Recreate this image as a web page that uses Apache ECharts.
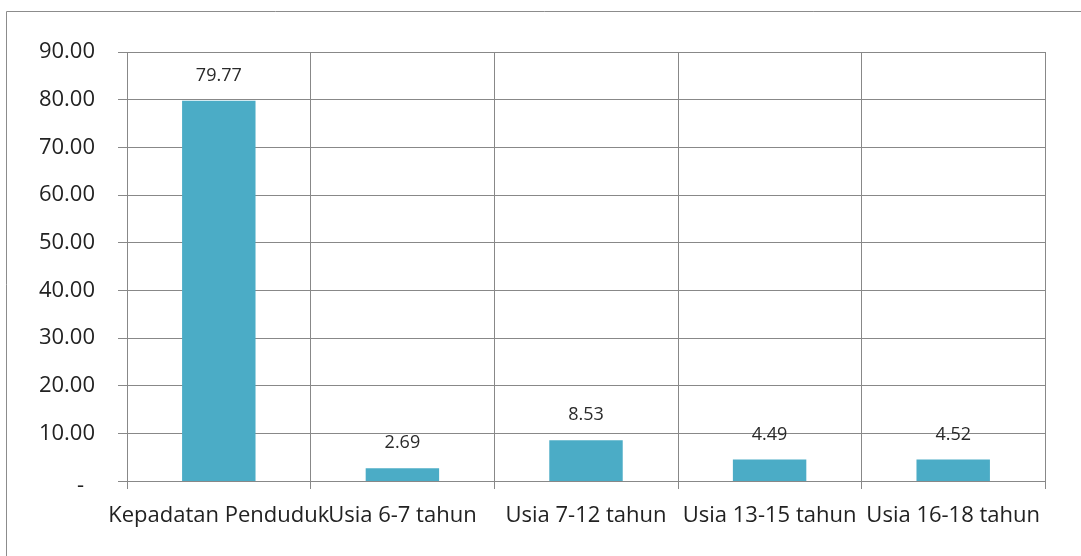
<!DOCTYPE html>
<html>
<head>
<meta charset="utf-8">
<script src="https://cdn.jsdelivr.net/npm/echarts@6/dist/echarts.min.js"></script>
<style>
html,body{margin:0;padding:0;background:#fff;}
#chart{width:1081px;height:556px;}
</style>
</head>
<body>
<div id="chart"></div>
<script>
var categories = ['Kepadatan Penduduk', 'Usia 6-7 tahun', 'Usia 7-12 tahun', 'Usia 13-15 tahun', 'Usia 16-18 tahun'];
var values = [79.77, 2.69, 8.53, 4.49, 4.52];

var chart = echarts.init(document.getElementById('chart'));
chart.setOption({
  animation: false,
  graphic: [{
    type: 'rect',
    shape: {x: 6.5, y: 11.5, width: 1100, height: 600},
    style: {fill: 'none', stroke: '#8c8c8c', lineWidth: 1},
    silent: true
  }],
  grid: {left: 127, right: 36, top: 52, bottom: 75, containLabel: false},
  xAxis: {
    type: 'category',
    data: categories,
    boundaryGap: true,
    axisLine: {lineStyle: {color: '#888', width: 1}},
    axisTick: {show: true, interval: 0, length: 8, lineStyle: {color: '#888'}},
    splitLine: {show: true, interval: 0, lineStyle: {color: '#888', width: 1}},
    axisLabel: {interval: 0, color: '#222', fontFamily: 'Open Sans', fontSize: 22, margin: 24}
  },
  yAxis: {
    type: 'value',
    min: 0, max: 90, interval: 10,
    axisLine: {show: false},
    axisTick: {show: true, length: 9, lineStyle: {color: '#888'}},
    splitLine: {show: true, lineStyle: {color: '#888', width: 1}},
    axisLabel: {
      color: '#222', fontFamily: 'Open Sans', fontSize: 22, margin: 32,
      formatter: function (v) { return v === 0 ? '{d|-}' : v.toFixed(2); },
      rich: {
        d: {color: '#222', fontFamily: 'Open Sans', fontSize: 22, padding: [10, 11, 0, 0]}
      }
    }
  },
  series: [{
    type: 'bar',
    data: values,
    barWidth: '40%',
    itemStyle: {color: '#4BACC6'},
    label: {
      show: true, position: 'top', distance: 16,
      color: '#2a2a2a', fontFamily: 'Open Sans', fontSize: 18,
      formatter: function (p) { return p.value.toFixed(2); }
    }
  }]
});
</script>
</body>
</html>
